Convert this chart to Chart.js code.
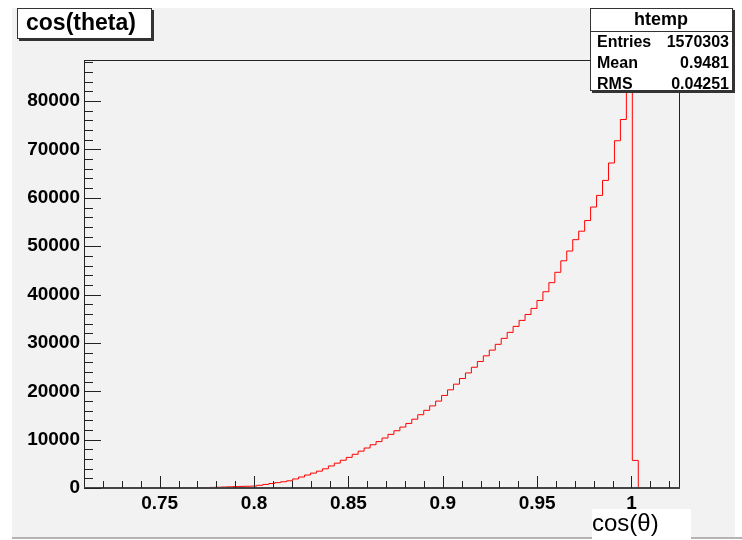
<!DOCTYPE html>
<html>
<head>
<meta charset="utf-8">
<script src="https://cdn.jsdelivr.net/npm/chart.js@4.4.0/dist/chart.umd.min.js"></script>
<style>
  html, body { margin: 0; padding: 0; background: #fff; }
  #wrap { width: 742px; height: 540px; }
</style>
</head>
<body>
<div id="wrap"><canvas id="histCanvas" width="742" height="540"></canvas></div>
<script>
// histogram binning (100 bins)
const binLow = 0.7099
const binWidth = 0.003158
const counts = [
  0, 0, 0, 0, 0, 0, 0, 0, 0, 0,
  0, 0, 0, 0, 0, 0, 0, 0, 0, 0,
  0, 120, 160, 200, 240, 290, 330, 360, 400, 560,
  740, 930, 1110, 1290, 1490, 1870, 2270, 2680, 3080, 3480,
  3970, 4560, 5140, 5740, 6330, 6970, 7620, 8270, 8940, 9590,
  10330, 11090, 11840, 12600, 13350, 14230, 15150, 16060, 16980, 17970,
  19140, 20300, 21470, 22640, 23790, 24970, 26160, 27330, 28510, 29710,
  30940, 32180, 33420, 34660, 35880, 37130, 38770, 40580, 42460, 44600,
  46980, 49000, 51350, 53100, 55300, 58100, 60500, 63600, 67200, 71800,
  76200, 95000, 5700, 0, 0, 0, 0, 0, 0, 0
]
const xTickValues = [0.75, 0.8, 0.85, 0.9, 0.95, 1]
const yTickValues = [0, 10000, 20000, 30000, 40000, 50000, 60000, 70000, 80000]
const xRange = [0.7099, 1.0257]
const yMax = 88500

const histTitle = 'cos(theta)'
const xTitle = 'cos(θ)'
const statName = 'htemp'
const statLabels = ['Entries', 'Mean', 'RMS']
const statValues = ['1570303', '0.9481', '0.04251']

const FONT = '"Liberation Sans", Arial, Helvetica, sans-serif'

// left edge of each bin, plus closing edge
const points = counts.map(function (c, i) {
  return { x: binLow + i * binWidth, y: c }
})
points.push({ x: binLow + counts.length * binWidth, y: 0 })

const rootStyle = {
  id: 'rootStyle',
  beforeDraw: function (chart) {
    const ctx = chart.ctx
    ctx.save()
    ctx.fillStyle = '#f2f2f2'
    ctx.fillRect(12, 8, 723, 529)
    ctx.fillStyle = '#b4b4b4'
    ctx.fillRect(12, 537, 730, 2)
    // white pad behind the x axis title
    ctx.fillStyle = '#fff'
    ctx.fillRect(592, 509, 99, 30)
    ctx.restore()
  },
  afterDatasetsDraw: function (chart) {
    const ctx = chart.ctx
    const a = chart.chartArea
    const xs = chart.scales.x
    const ys = chart.scales.y
    ctx.save()
    ctx.strokeStyle = '#222'
    ctx.lineWidth = 1
    ctx.strokeRect(a.left + 0.5, a.top + 0.5, a.right - a.left - 1, a.bottom - a.top)
    // bottom axis line
    ctx.strokeStyle = '#444'
    ctx.lineWidth = 2
    ctx.beginPath()
    ctx.moveTo(a.left, a.bottom)
    ctx.lineTo(a.right, a.bottom)
    ctx.stroke()
    // y ticks
    ctx.lineWidth = 1
    ctx.strokeStyle = '#222'
    ctx.beginPath()
    for (let v = 0; v <= yMax; v += 2000) {
      const py = Math.round(ys.getPixelForValue(v)) + 0.5
      const len = v % 10000 === 0 ? 17 : 9
      ctx.moveTo(a.left, py)
      ctx.lineTo(a.left + len, py)
    }
    // x ticks
    for (let k = 72; k <= 102; k++) {
      const px = Math.round(xs.getPixelForValue(k / 100)) + 0.5
      const len = k % 5 === 0 ? 12 : 7
      ctx.moveTo(px, a.bottom)
      ctx.lineTo(px, a.bottom - len)
    }
    ctx.stroke()
    ctx.restore()
  },
  afterDraw: function (chart) {
    const ctx = chart.ctx
    ctx.save()
    // title box
    ctx.fillStyle = '#333'
    ctx.fillRect(19, 10, 135, 31)
    ctx.fillStyle = '#fff'
    ctx.fillRect(17, 8, 135, 31)
    ctx.strokeStyle = '#333'
    ctx.lineWidth = 1
    ctx.strokeRect(17.5, 8.5, 134, 30)
    ctx.fillStyle = '#000'
    ctx.font = 'bold 23px ' + FONT
    ctx.textBaseline = 'middle'
    ctx.textAlign = 'left'
    ctx.fillText(histTitle, 26, 24)

    // stats box
    ctx.fillStyle = '#333'
    ctx.fillRect(592, 10, 143, 83)
    ctx.fillStyle = '#fff'
    ctx.fillRect(590, 8, 143, 83)
    ctx.strokeRect(590.5, 8.5, 142, 82)
    ctx.beginPath()
    ctx.moveTo(590, 31.5)
    ctx.lineTo(733, 31.5)
    ctx.stroke()
    ctx.fillStyle = '#000'
    ctx.font = 'bold 18px ' + FONT
    ctx.textAlign = 'center'
    ctx.fillText(statName, 661, 20)
    ctx.font = 'bold 16px ' + FONT
    const rowY = [43, 64, 85]
    statLabels.forEach(function (lbl, i) {
      ctx.textAlign = 'left'
      ctx.fillText(lbl, 597, rowY[i])
      ctx.textAlign = 'right'
      ctx.fillText(statValues[i], 729, rowY[i])
    })

    // x axis title
    ctx.fillStyle = '#000'
    ctx.font = '24px ' + FONT
    ctx.textAlign = 'left'
    ctx.textBaseline = 'alphabetic'
    ctx.fillText(xTitle, 592, 531)
    ctx.restore()
  }
}

const ctx = document.getElementById('histCanvas').getContext('2d')
window.myHist = new Chart(ctx, {
  type: 'line',
  data: {
    datasets: [
      {
        label: statName,
        data: points,
        borderColor: '#ff0000',
        borderWidth: 1,
        pointRadius: 0,
        stepped: 'before',
        fill: false,
        tension: 0,
      },
    ],
  },
  options: {
    responsive: false,
    animation: false,
    devicePixelRatio: 1,
    layout: { padding: { left: 0, top: 60, right: 62, bottom: 0 } },
    plugins: {
      legend: { display: false },
      tooltip: { enabled: false },
    },
    scales: {
      x: {
        type: 'linear',
        min: xRange[0],
        max: xRange[1],
        grid: { display: false, drawTicks: false, tickLength: 0 },
        border: { display: false },
        afterBuildTicks: function (scale) {
          scale.ticks = xTickValues.map(function (v) { return { value: v } })
        },
        afterFit: function (scale) { scale.height = 52 },
        ticks: {
          autoSkip: false,
          maxRotation: 0,
          padding: 4,
          color: '#000',
          font: { family: FONT, size: 19, weight: 'bold' },
          callback: function (v) { return String(v) },
        },
      },
      y: {
        type: 'linear',
        min: 0,
        max: yMax,
        grid: { display: false, drawTicks: false, tickLength: 0 },
        border: { display: false },
        afterBuildTicks: function (scale) {
          scale.ticks = yTickValues.map(function (v) { return { value: v } })
        },
        afterFit: function (scale) { scale.width = 84 },
        ticks: {
          padding: 4,
          color: '#000',
          font: { family: FONT, size: 19, weight: 'bold' },
          callback: function (v) { return String(v) },
        },
      },
    },
  },
  plugins: [rootStyle],
})
</script>
</body>
</html>
